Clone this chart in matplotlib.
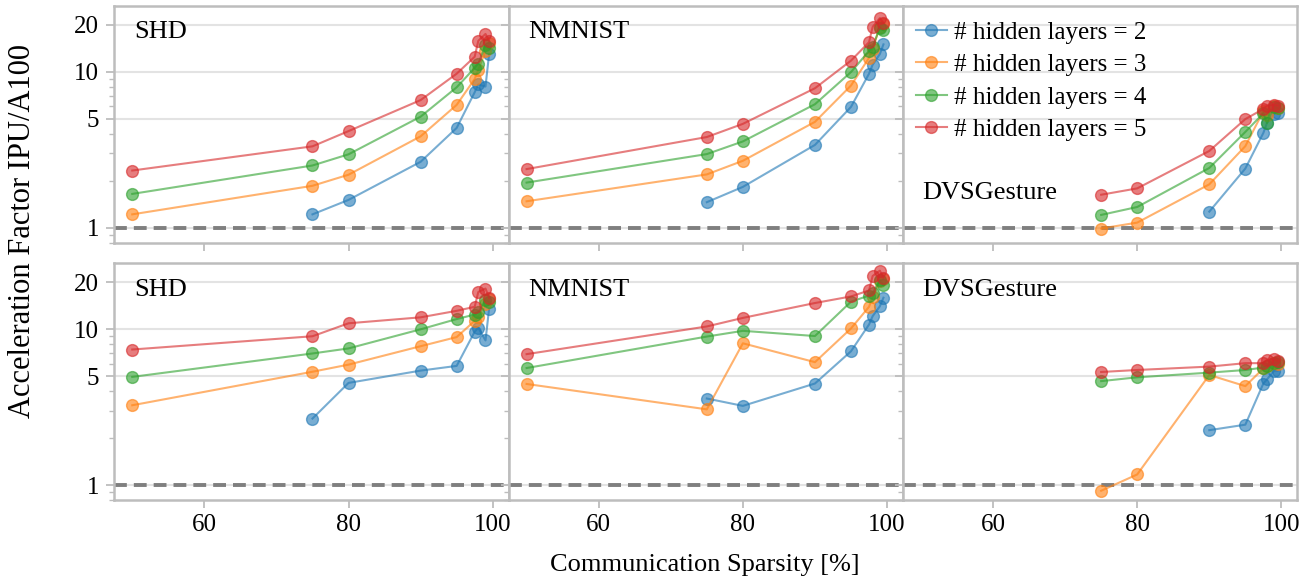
import numpy as np
import matplotlib
matplotlib.use("Agg")
import matplotlib.pyplot as plt
from matplotlib.ticker import FixedLocator, LogLocator, NullFormatter, FixedFormatter

nan = np.nan

# communication sparsity [%]
sparsity = [50, 75, 80, 90, 95, 97.5, 98, 99, 99.5]
datasets = ["SHD", "NMNIST", "DVSGesture"]
layers = [2, 3, 4, 5]
colors = ["#1f77b4", "#ff7f0e", "#2ca02c", "#d62728"]

# top row
shd_top = [
    [nan, 1.22, 1.51, 2.65, 4.37, 7.4, 8.3, 8.05, 13.0],
    [1.22, 1.86, 2.19, 3.86, 6.14, 9.0, 10.3, 13.6, 15.2],
    [1.65, 2.51, 2.96, 5.16, 7.96, 10.6, 11.3, 14.8, 14.2],
    [2.33, 3.33, 4.17, 6.59, 9.73, 12.5, 15.8, 17.5, 15.8],
]
nmnist_top = [
    [nan, 1.46, 1.83, 3.40, 5.96, 9.73, 11.1, 13.0, 15.0],
    [1.48, 2.20, 2.69, 4.78, 8.17, 12.3, 14.0, 19.5, 20.3],
    [1.95, 2.97, 3.58, 6.2, 9.97, 13.6, 14.5, 19.1, 18.5],
    [2.38, 3.82, 4.64, 7.85, 11.8, 15.5, 19.4, 22.1, 20.6],
]
dvs_top = [
    [nan, nan, nan, 1.27, 2.40, 4.06, 4.7, 5.4, 5.45],
    [nan, 0.99, 1.08, 1.90, 3.34, 5.6, 5.3, 6.0, 5.9],
    [nan, 1.21, 1.36, 2.42, 4.12, 5.42, 4.7, 5.99, 5.83],
    [nan, 1.63, 1.79, 3.11, 4.98, 5.78, 6.08, 6.14, 6.08],
]

# bottom row
shd_bot = [
    [nan, 2.67, 4.52, 5.42, 5.81, 9.63, 10.2, 8.46, 13.5],
    [3.25, 5.33, 5.92, 7.77, 8.89, 11.3, 12.0, 14.5, 15.6],
    [4.94, 6.98, 7.52, 9.97, 11.6, 12.4, 12.8, 15.3, 14.9],
    [7.4, 9.0, 10.9, 11.9, 13.1, 13.9, 17.3, 18.2, 15.9],
]
nmnist_bot = [
    [nan, 3.59, 3.22, 4.48, 7.21, 10.7, 12.1, 14.0, 15.9],
    [4.45, 3.06, 8.11, 6.14, 10.1, 13.9, 16.0, 20.3, 21.0],
    [5.63, 8.96, 9.75, 9.03, 15.0, 16.4, 17.0, 20.6, 19.1],
    [6.91, 10.4, 11.8, 14.7, 16.2, 17.7, 21.9, 23.7, 21.4],
]
dvs_bot = [
    [nan, nan, nan, 2.25, 2.44, 4.48, 4.76, 5.42, 5.42],
    [nan, 0.92, 1.17, 5.08, 4.31, 5.6, 5.8, 6.1, 6.0],
    [nan, 4.64, 4.91, 5.26, 5.47, 5.67, 5.8, 6.05, 6.15],
    [nan, 5.31, 5.47, 5.75, 6.05, 6.05, 6.36, 6.43, 6.27],
]

panels = [[shd_top, nmnist_top, dvs_top], [shd_bot, nmnist_bot, dvs_bot]]

plt.rcParams["font.family"] = ["Liberation Serif", "DejaVu Serif"]
grey = "#bdbdbd"

fig, axes = plt.subplots(2, 3, figsize=(13.13, 5.83), dpi=100, sharex=True, sharey=True)
fig.subplots_adjust(left=0.087, right=0.988, top=0.990, bottom=0.142, wspace=0, hspace=0.085)

for r in range(2):
    for c in range(3):
        ax = axes[r, c]
        ax.set_axisbelow(True)
        ax.axhline(1, color="#7f7f7f", lw=2.8, ls=(0, (3.3, 1.8)), zorder=2)
        for k, vals in enumerate(panels[r][c]):
            ax.plot(sparsity, vals, "-o", color=colors[k], lw=1.5, ms=8.5, alpha=0.6,
                    label="# hidden layers = %d" % layers[k], zorder=3)
        ax.set_yscale("log")
        ax.set_ylim(0.8, 26.5)
        ax.set_xlim(47.5, 102.2)
        ax.yaxis.set_major_locator(FixedLocator([1, 5, 10, 20]))
        ax.yaxis.set_major_formatter(FixedFormatter(["1", "5", "10", "20"]))
        ax.yaxis.set_minor_locator(LogLocator(base=10, subs=np.arange(2, 10)))
        ax.yaxis.set_minor_formatter(NullFormatter())
        ax.set_xticks([60, 80, 100])
        ax.grid(axis="y", which="major", color="#e3e3e3", lw=1.5)
        for sp in ax.spines.values():
            sp.set_color(grey)
            sp.set_linewidth(1.8)
        ax.tick_params(axis="both", which="major", color=grey, width=1.3, length=6, labelsize=18)
        ax.tick_params(axis="x", which="major", pad=4)
        ax.tick_params(axis="y", which="major", pad=5)
        ax.tick_params(axis="y", which="minor", color=grey, width=1.0, length=3.5)
        ax.tick_params(axis="x", which="minor", bottom=False)
        name = datasets[c]
        if r == 0 and c == 2:
            ax.text(0.05, 0.255, name, transform=ax.transAxes, fontsize=19, va="top")
        else:
            ax.text(0.05, 0.935, name, transform=ax.transAxes, fontsize=19, va="top")

axes[0, 2].legend(loc="upper left", bbox_to_anchor=(-0.025, 1.03), frameon=False, fontsize=18,
                  handlelength=1.25, handletextpad=0.3, labelspacing=0.4)

fig.text(0.017, 0.604, "Acceleration Factor IPU/A100", rotation=90, va="center", ha="center", fontsize=22)
fig.text(0.537, 0.031, "Communication Sparsity [%]", va="center", ha="center", fontsize=19)

fig.savefig("out.png", dpi=100)
